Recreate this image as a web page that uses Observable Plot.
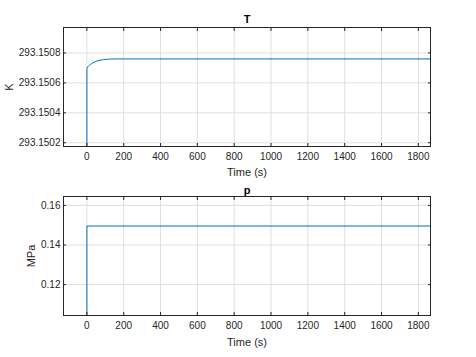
<!DOCTYPE html>
<html>
<head>
<meta charset="utf-8">
<script src="https://cdn.jsdelivr.net/npm/d3@7"></script>
<script src="https://cdn.jsdelivr.net/npm/@observablehq/plot@0.6"></script>
<style>
  body { margin: 0; background: #fff; font-family: "Liberation Sans", Arial, sans-serif; }
  #wrap { position: relative; width: 476px; height: 357px; background: #fff; }
  .lbl { position: absolute; font-size: 11px; color: #262626; white-space: nowrap; line-height: 1; }
  .ttl { position: absolute; font-size: 11px; font-weight: bold; color: #000; line-height: 1; }
  .plot { position: absolute; left: 0; }
</style>
</head>
<body>
<div id="wrap"></div>
<script>
// Data
const timeT = [0, 0, 5, 10, 18, 30, 45, 60, 72, 90, 110, 130, 160, 200, 1870];
const valT = [293.15, 293.150697, 293.150707, 293.150714, 293.150722, 293.150733, 293.150742, 293.150748, 293.150751, 293.150755, 293.150758, 293.150759, 293.15076, 293.15076, 293.15076];
const timeP = [0, 0, 1870];
const valP = [0.1, 0.1496, 0.1496];
const xTicks = [0, 200, 400, 600, 800, 1000, 1200, 1400, 1600, 1800];
const yTicksT = [293.1502, 293.1504, 293.1506, 293.1508];
const yTicksP = [0.12, 0.14, 0.16];
const titles = ["T", "p"];
const yLabels = ["K", "MPa"];
const xLabel = "Time (s)";

const xDomain = [-127, 1866];
const lineColor = "#0072BD";
const gridColor = "#dfdfdf";
const axisColor = "#262626";

function panel({times, vals, yTicks, yDomain, height, mt, mb, fmt}) {
  const data = times.map((t, i) => ({t, v: vals[i]}));
  return Plot.plot({
    width: 476, height,
    marginLeft: 63, marginRight: 46, marginTop: mt, marginBottom: mb,
    style: {fontFamily: "Liberation Sans, Arial, sans-serif", fontSize: "10px", color: axisColor, background: "#fff"},
    x: {domain: xDomain},
    y: {domain: yDomain},
    marks: [
      Plot.gridX(xTicks, {stroke: gridColor, strokeOpacity: 1}),
      Plot.gridY(yTicks, {stroke: gridColor, strokeOpacity: 1}),
      Plot.line(data, {x: "t", y: "v", stroke: lineColor, strokeWidth: 1, clip: true}),
      Plot.axisX(xTicks, {anchor: "bottom", tickSize: -3, tickPadding: 9, label: null, tickFormat: d => String(d), stroke: axisColor, fill: axisColor}),
      Plot.axisX(xTicks, {anchor: "top", tickSize: -3, label: null, tickFormat: () => "", stroke: axisColor}),
      Plot.axisY(yTicks, {anchor: "left", tickSize: -3, tickPadding: 6, label: null, tickFormat: fmt, stroke: axisColor, fill: axisColor}),
      Plot.axisY(yTicks, {anchor: "right", tickSize: -3, label: null, tickFormat: () => "", stroke: axisColor}),
      Plot.frame({stroke: axisColor, strokeWidth: 1})
    ]
  });
}

const wrap = document.getElementById("wrap");
const p1 = panel({times: timeT, vals: valT, yTicks: yTicksT, yDomain: [293.150175, 293.15097], height: 180, mt: 27, mb: 34, fmt: d => d.toFixed(4)});
p1.classList.add("plot"); p1.style.top = "0px";
wrap.appendChild(p1);
const p2 = panel({times: timeP, vals: valP, yTicks: yTicksP, yDomain: [0.1044, 0.1645], height: 177, mt: 16, mb: 42, fmt: d => d.toFixed(2)});
p2.classList.add("plot"); p2.style.top = "180px";
wrap.appendChild(p2);

function addText(cls, text, left, top, rotate) {
  const d = document.createElement("div");
  d.className = cls;
  d.textContent = text;
  d.style.left = left + "px";
  d.style.top = top + "px";
  d.style.transform = "translate(-50%, -50%)" + (rotate ? " rotate(-90deg)" : "");
  wrap.appendChild(d);
}
addText("ttl", titles[0], 247, 19);
addText("ttl", titles[1], 247, 190);
addText("lbl", xLabel, 247, 172);
addText("lbl", xLabel, 247, 342);
addText("lbl", yLabels[0], 9, 87, true);
addText("lbl", yLabels[1], 31, 256, true);
</script>
</body>
</html>
